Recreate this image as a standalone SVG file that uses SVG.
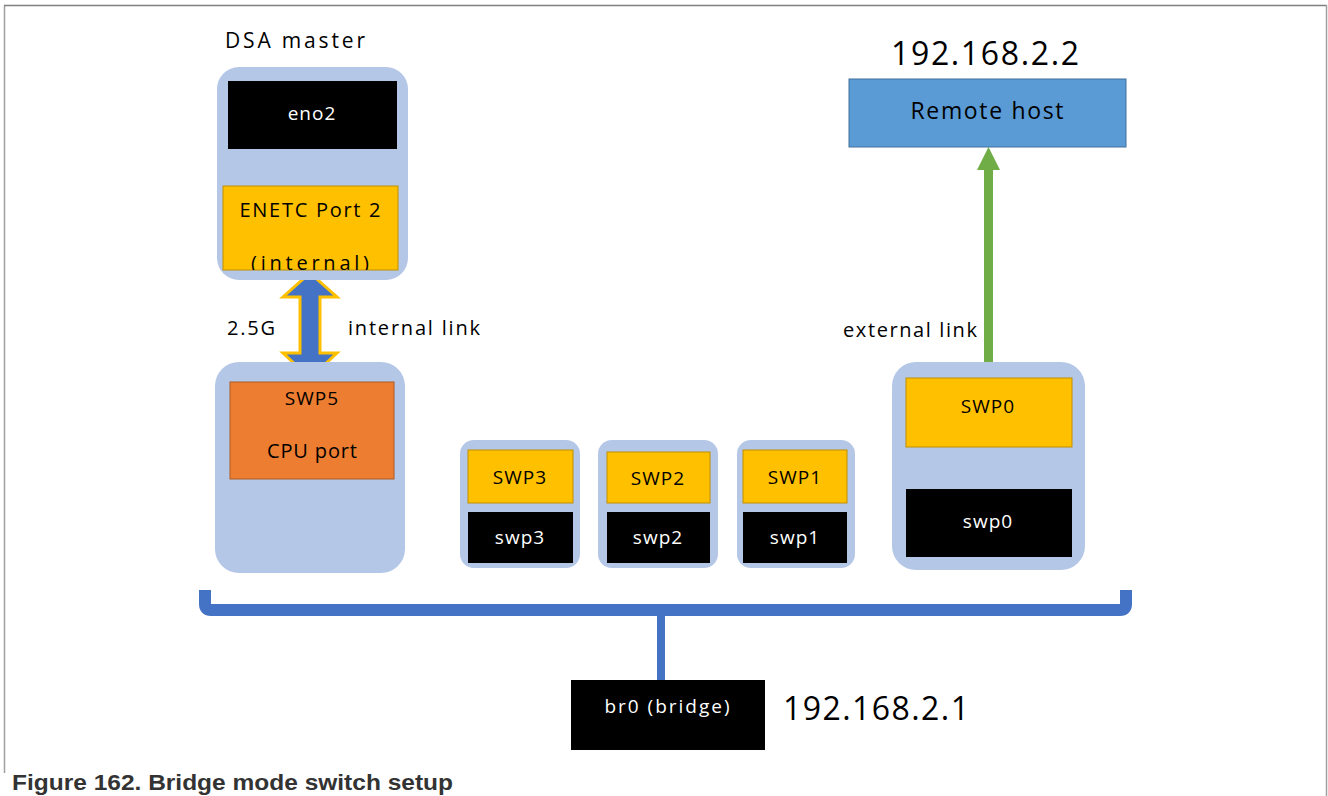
<svg xmlns="http://www.w3.org/2000/svg" width="1328" height="796" viewBox="0 0 1328 796">
<style>
.grp{fill:#B4C7E7;}
.yel{fill:#FFC000;stroke:#BF9000;stroke-width:1;}
.blk{fill:#000000;}
.t{font-family:"Open Sans","DejaVu Sans",sans-serif;font-size:19px;letter-spacing:1px;text-anchor:middle;dominant-baseline:central;fill:#000;}
.tw{fill:#ffffff;}
.lbl{font-family:"Open Sans","DejaVu Sans",sans-serif;font-size:20px;fill:#000;}
.ip{font-family:"Open Sans","DejaVu Sans",sans-serif;font-size:32px;fill:#000;}
</style>
<defs>
<clipPath id="encl"><rect x="223" y="186" width="175" height="84"/></clipPath>
</defs>
<rect width="1328" height="796" fill="#ffffff"/>
<g id="frame" fill="none">
<line x1="4.5" y1="6" x2="4.5" y2="773" stroke="#a0a0a0" stroke-width="1.5"/>
<line x1="4" y1="5.5" x2="1327" y2="5.5" stroke="#808080" stroke-width="1.5"/>
<line x1="1326.5" y1="5" x2="1326.5" y2="796" stroke="#a0a0a0" stroke-width="1.5"/>
</g>

<g id="connectors">
<path d="M205 590 V604 Q205 610 211 610 H1120 Q1126 610 1126 604 V590" fill="none" stroke="#4472C4" stroke-width="12"/>
<line x1="661" y1="610" x2="661" y2="681" stroke="#4472C4" stroke-width="8"/>
<path d="M310 273 L337 297 L320 297 L320 353 L337 353 L310 378 L283 353 L300 353 L300 297 L283 297 Z" fill="#4472C4" stroke="#FFC000" stroke-width="3" stroke-linejoin="miter"/>
<line x1="988.5" y1="362" x2="988.5" y2="168" stroke="#70AD47" stroke-width="9"/>
<path d="M988.5 147 L1000 170 L977 170 Z" fill="#70AD47"/>
</g>

<g id="dsa-master">
<text class="lbl" x="225" y="48" style="font-size:21px" textLength="140">DSA master</text>
<rect class="grp" x="217" y="67" width="191" height="213" rx="22"/>
<rect class="blk" x="228" y="81" width="169" height="68"/>
<text class="t tw" x="312" y="113">eno2</text>
<rect class="yel" x="223" y="186" width="175" height="84"/>
<text class="t" x="310" y="209" style="font-size:20px;letter-spacing:0" textLength="141">ENETC Port 2</text>
<text class="t" x="310" y="262" style="font-size:20px;letter-spacing:0" textLength="118" clip-path="url(#encl)">(internal)</text>
</g>

<g id="link-labels">
<text class="lbl" x="227" y="335" textLength="48">2.5G</text>
<text class="lbl" x="348" y="335" textLength="132">internal link</text>
<text class="lbl" x="843" y="337" textLength="134">external link</text>
</g>

<g id="swp5">
<rect class="grp" x="215" y="362" width="190" height="211" rx="24"/>
<rect x="230" y="382" width="164" height="97" fill="#ED7D31" stroke="#AE5A21" stroke-width="1"/>
<text class="t" x="312" y="398">SWP5</text>
<text class="t" x="312" y="450" style="font-size:20px;letter-spacing:0" textLength="90">CPU port</text>
</g>

<g id="swp3">
<rect class="grp" x="460" y="440" width="120" height="128" rx="14"/>
<rect class="yel" x="468" y="450" width="105" height="53"/>
<text class="t" x="520" y="477">SWP3</text>
<rect class="blk" x="468" y="512" width="105" height="51"/>
<text class="t tw" x="520" y="537">swp3</text>
</g>

<g id="swp2">
<rect class="grp" x="598" y="440" width="120" height="128" rx="14"/>
<rect class="yel" x="607" y="452" width="103" height="51"/>
<text class="t" x="658" y="478">SWP2</text>
<rect class="blk" x="607" y="512" width="103" height="51"/>
<text class="t tw" x="658" y="537">swp2</text>
</g>

<g id="swp1">
<rect class="grp" x="737" y="440" width="118" height="128" rx="14"/>
<rect class="yel" x="743" y="450" width="104" height="53"/>
<text class="t" x="795" y="477">SWP1</text>
<rect class="blk" x="743" y="512" width="104" height="51"/>
<text class="t tw" x="795" y="537">swp1</text>
</g>

<g id="swp0">
<rect class="grp" x="892" y="362" width="193" height="208" rx="24"/>
<rect class="yel" x="906" y="378" width="166" height="69"/>
<text class="t" x="988" y="406">SWP0</text>
<rect class="blk" x="906" y="489" width="166" height="68"/>
<text class="t tw" x="988" y="521">swp0</text>
</g>

<g id="remote-host">
<text class="ip" x="985" y="65" text-anchor="middle" textLength="188">192.168.2.2</text>
<rect x="849" y="79" width="277" height="68" fill="#5B9BD5" stroke="#41719C" stroke-width="1"/>
<text class="t" x="987" y="110" style="font-size:23px;letter-spacing:0" textLength="153">Remote host</text>
</g>

<g id="br0">
<rect class="blk" x="571" y="680" width="194" height="70"/>
<text class="t tw" x="667" y="706" style="font-size:19px;letter-spacing:0" textLength="125">br0 (bridge)</text>
<text class="ip" x="783" y="720" textLength="186">192.168.2.1</text>
</g>

<text x="12" y="790" font-family="'Liberation Sans',Arial,sans-serif" font-weight="bold" font-size="22" fill="#333333" textLength="441" lengthAdjust="spacingAndGlyphs">Figure 162.  Bridge mode switch setup</text>
</svg>
